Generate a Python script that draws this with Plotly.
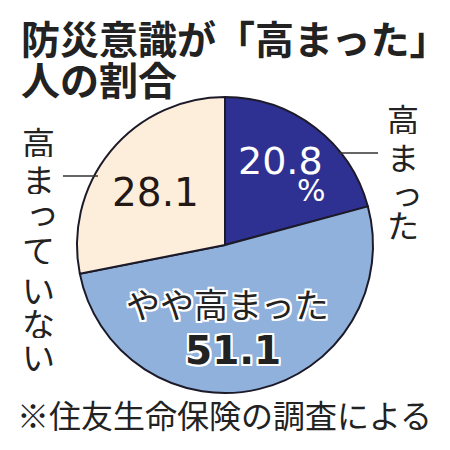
import plotly.graph_objects as go

categories = ["高まった", "やや高まった", "高まっていない"]
values = [20.8, 51.1, 28.1]
colors = ["#2e3192", "#8fb1dc", "#fdeedc"]

title_lines = ["防災意識が「高まった」", "人の割合"]
source = "※住友生命保険の調査による"

W = H = 450
cx, cy, r = 225, 245, 148

def px(x):
    return x / W

def py(y):
    return 1 - y / H

FONT = "Noto Sans CJK JP"
NUM = "DejaVu Sans"

fig = go.Figure()
fig.add_trace(go.Pie(
    labels=categories,
    values=values,
    sort=False,
    direction="clockwise",
    rotation=0,
    textinfo="none",
    hoverinfo="label+value",
    marker=dict(colors=colors, line=dict(color="#1c1a28", width=2)),
    domain=dict(x=[px(cx - r), px(cx + r)], y=[py(cy + r), py(cy - r)]),
    showlegend=False,
))

WHITE_OUTLINE = ("2px 0 0 #fff, -2px 0 0 #fff, 0 2px 0 #fff, 0 -2px 0 #fff, "
                 "2px 2px 0 #fff, -2px -2px 0 #fff, 2px -2px 0 #fff, -2px 2px 0 #fff")

ann = []
# title
ann.append(dict(x=px(19), y=py(37), text="<b>" + title_lines[0] + "</b>", xanchor="left", yanchor="middle",
                font=dict(family=FONT, size=39, color="#222222")))
ann.append(dict(x=px(19), y=py(78), text="<b>" + title_lines[1] + "</b>", xanchor="left", yanchor="middle",
                font=dict(family=FONT, size=39, color="#222222")))

# slice value labels
ann.append(dict(x=px(280), y=py(161), text=f"{values[0]}", xanchor="center", yanchor="middle",
                font=dict(family=NUM, size=38, color="#ffffff")))
ann.append(dict(x=px(311), y=py(191), text="%", xanchor="center", yanchor="middle",
                font=dict(family=NUM, size=30, color="#ffffff")))
ann.append(dict(x=px(155), y=py(192), text=f"{values[2]}", xanchor="center", yanchor="middle",
                font=dict(family=NUM, size=39, color="#231815")))
ann.append(dict(x=px(227), y=py(303), text=categories[1], xanchor="center", yanchor="middle",
                font=dict(family=FONT, size=34, color="#222222", shadow=WHITE_OUTLINE)))
ann.append(dict(x=px(233), y=py(350), text=f"<b>{values[1]}</b>", xanchor="center", yanchor="middle",
                font=dict(family=NUM, size=39, color="#222222", shadow=WHITE_OUTLINE)))

# outside vertical labels (one character per annotation)
right_y = [117, 155, 190, 223]
for ch, yy in zip(categories[0], right_y):
    dx = 4 if ch == "っ" else 0
    ann.append(dict(x=px(403 + dx), y=py(yy), text=ch, xanchor="center", yanchor="middle",
                    height=33, valign="middle",
                    font=dict(family=FONT, size=32, color="#222222")))
left_y = [141, 178, 210, 248, 288, 322, 355]
for ch, yy in zip(categories[2], left_y):
    dx = 4 if ch == "っ" else 0
    ann.append(dict(x=px(38 + dx), y=py(yy), text=ch, xanchor="center", yanchor="middle",
                    height=31, valign="middle",
                    font=dict(family=FONT, size=33, color="#222222")))

# source
ann.append(dict(x=px(224), y=py(414), text=source, xanchor="center", yanchor="middle",
                font=dict(family=FONT, size=32, color="#222222")))

for a in ann:
    a.update(xref="paper", yref="paper", showarrow=False)

shapes = [
    dict(type="line", xref="paper", yref="paper", x0=px(338), x1=px(378), y0=py(153), y1=py(153),
         line=dict(color="#333333", width=1.5)),
    dict(type="line", xref="paper", yref="paper", x0=px(63), x1=px(98), y0=py(176), y1=py(176),
         line=dict(color="#333333", width=1.5)),
]

fig.update_layout(
    width=W, height=H,
    margin=dict(l=0, r=0, t=0, b=0),
    paper_bgcolor="#ffffff",
    plot_bgcolor="#ffffff",
    annotations=ann,
    shapes=shapes,
)

fig.write_html("out.html", config={"displayModeBar": False},
               post_script="document.body.style.margin='0';document.body.style.overflow='hidden';")
